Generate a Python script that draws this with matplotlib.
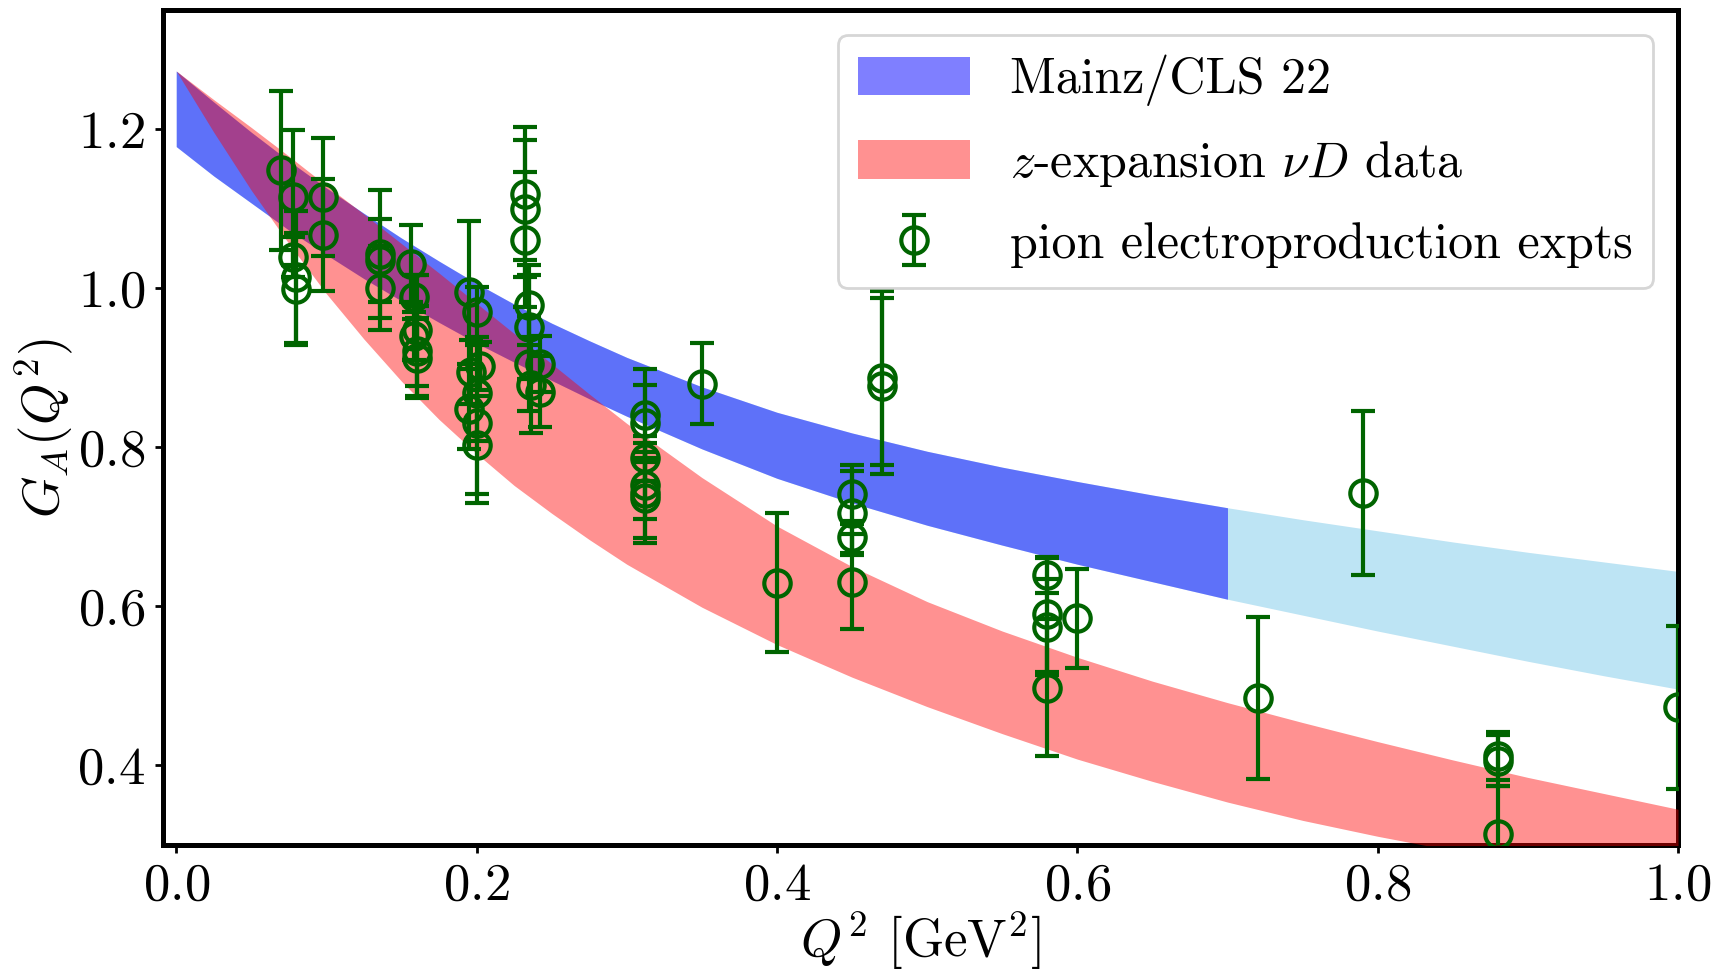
import numpy as np
import matplotlib
matplotlib.use("Agg")
import matplotlib.pyplot as plt

plt.rcParams['font.family'] = 'serif'
plt.rcParams['font.serif'] = ['cmr10', 'DejaVu Serif']
plt.rcParams['mathtext.fontset'] = 'cm'
plt.rcParams['axes.formatter.use_mathtext'] = True
plt.rcParams['font.size'] = 19

# Q^2 grid for the form-factor bands
q2_band = [0.0, 0.025, 0.05, 0.075, 0.1, 0.125, 0.15, 0.175, 0.2, 0.225, 0.25, 0.275, 0.3,
           0.35, 0.4, 0.45, 0.5, 0.55, 0.6, 0.65, 0.7, 0.75, 0.8, 0.85, 0.9, 0.95, 1.0]

# Mainz/CLS 22 lattice band (upper / lower edge)
mainz_hi = [1.273, 1.234, 1.196, 1.160, 1.126, 1.094, 1.063, 1.034, 1.006, 0.980, 0.956, 0.934, 0.913,
            0.876, 0.844, 0.818, 0.795, 0.775, 0.757, 0.740, 0.724, 0.709, 0.695, 0.681, 0.668, 0.656, 0.644]
mainz_lo = [1.178, 1.141, 1.107, 1.073, 1.042, 1.012, 0.984, 0.957, 0.931, 0.907, 0.884, 0.861, 0.839,
            0.798, 0.761, 0.730, 0.702, 0.677, 0.653, 0.631, 0.609, 0.589, 0.569, 0.550, 0.531, 0.513, 0.496]

# z-expansion fit to neutrino-deuterium data
zexp_hi = [1.273, 1.237, 1.202, 1.166, 1.129, 1.093, 1.056, 1.019, 0.981, 0.943, 0.905, 0.867, 0.830,
           0.762, 0.701, 0.650, 0.606, 0.569, 0.536, 0.506, 0.479, 0.454, 0.430, 0.407, 0.385, 0.365, 0.345]
zexp_lo = [1.273, 1.196, 1.123, 1.056, 0.993, 0.936, 0.883, 0.835, 0.792, 0.752, 0.717, 0.684, 0.653,
           0.599, 0.552, 0.511, 0.474, 0.440, 0.408, 0.380, 0.354, 0.331, 0.311, 0.293, 0.276, 0.261, 0.246]

# Q^2 range covered by the lattice data
q2_lattice_max = 0.7

# pion electroproduction extractions
q2_pts = [0.070, 0.078, 0.078, 0.080, 0.080, 0.098, 0.098, 0.136, 0.136, 0.136,
          0.156, 0.158, 0.160, 0.158, 0.160, 0.160, 0.195, 0.200, 0.196, 0.202,
          0.200, 0.195, 0.200, 0.200, 0.232, 0.232, 0.232, 0.235, 0.235, 0.242,
          0.235, 0.236, 0.242, 0.312, 0.312, 0.312, 0.312, 0.312, 0.312, 0.350,
          0.400, 0.450, 0.450, 0.450, 0.450, 0.470, 0.470, 0.580, 0.580, 0.580,
          0.580, 0.600, 0.720, 0.790, 0.880, 0.880, 0.880, 1.000]
ga_pts = [1.148, 1.114, 1.039, 1.014, 0.999, 1.115, 1.067, 1.043, 1.035, 1.000,
          1.031, 0.989, 0.947, 0.940, 0.921, 0.912, 0.995, 0.970, 0.895, 0.902,
          0.868, 0.848, 0.830, 0.803, 1.119, 1.100, 1.061, 0.979, 0.951, 0.905,
          0.905, 0.878, 0.870, 0.841, 0.830, 0.786, 0.752, 0.743, 0.736, 0.880,
          0.630, 0.741, 0.717, 0.687, 0.631, 0.887, 0.877, 0.639, 0.590, 0.574,
          0.498, 0.585, 0.485, 0.742, 0.412, 0.406, 0.314, 0.473]
ga_err = [0.100, 0.085, 0.025, 0.083, 0.070, 0.074, 0.070, 0.080, 0.052, 0.053,
          0.049, 0.028, 0.070, 0.030, 0.057, 0.050, 0.090, 0.032, 0.040, 0.030,
          0.060, 0.050, 0.100, 0.062, 0.084, 0.086, 0.085, 0.050, 0.065, 0.035,
          0.060, 0.060, 0.045, 0.058, 0.048, 0.028, 0.042, 0.063, 0.050, 0.051,
          0.087, 0.037, 0.053, 0.020, 0.060, 0.109, 0.111, 0.022, 0.072, 0.060,
          0.086, 0.062, 0.102, 0.103, 0.030, 0.032, 0.060, 0.102]

q2 = np.array(q2_band)

fig, ax = plt.subplots(figsize=(8.6, 4.875), dpi=200)
fig.subplots_adjust(left=0.0946, right=0.9756, bottom=0.1333, top=0.99)

# extrapolated band over the full range, lattice band on top where data exist
ax.fill_between(q2, mainz_lo, mainz_hi, color='skyblue', alpha=0.55, lw=0, zorder=1)
h_mainz = ax.fill_between(q2, mainz_lo, mainz_hi, where=q2 <= q2_lattice_max,
                          color='blue', alpha=0.5, lw=0, zorder=2, label='Mainz/CLS 22')
h_zexp = ax.fill_between(q2, zexp_lo, zexp_hi, color='red', alpha=0.43, lw=0, zorder=3,
                         label=r'$z$-expansion $\nu D$ data')

h_pts = ax.errorbar(q2_pts, ga_pts, yerr=ga_err, fmt='o', color='darkgreen', mfc='none',
                    ms=9.5, mew=1.5, elinewidth=1.5, capsize=4.2, capthick=1.5, zorder=4,
                    label='pion electroproduction expts')

ax.set_xlim(-0.009, 1.0)
ax.set_ylim(0.3, 1.35)
ax.set_xticks([0.0, 0.2, 0.4, 0.6, 0.8, 1.0])
ax.set_yticks([0.4, 0.6, 0.8, 1.0, 1.2])
ax.set_xlabel(r'$Q^2$ [GeV$^2$]', labelpad=0)
ax.set_ylabel(r'$G_A(Q^2)$', labelpad=1)

for s in ax.spines.values():
    s.set_linewidth(1.8)
ax.tick_params(width=1.0, length=2.8)

ax.legend(handles=[h_mainz, h_zexp, h_pts], loc='upper right', fontsize=18,
          handlelength=2.25, handleheight=0.8, labelspacing=0.65)

fig.savefig('out.png', dpi=200)
